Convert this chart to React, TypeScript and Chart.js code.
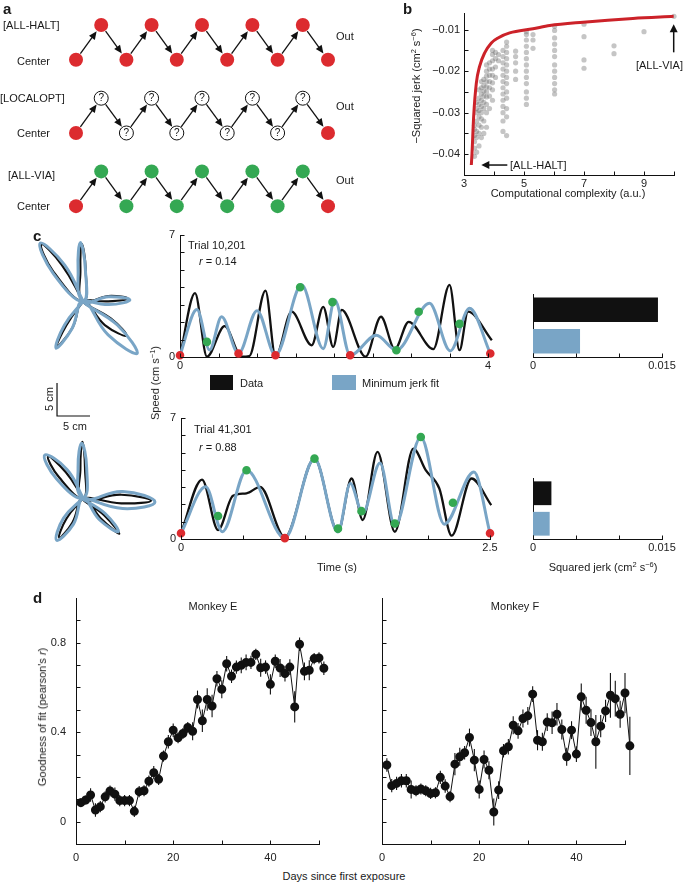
import React, { useEffect, useRef } from 'react';
import { Chart, registerables } from 'chart.js';

Chart.register(...registerables);

const FONT = '"Liberation Sans", Arial, Helvetica, sans-serif';
Chart.defaults.font.family = FONT;
Chart.defaults.font.size = 11;
Chart.defaults.color = '#222';

const INK = '#111111';
const RED = '#dc2b2f';
const GREEN = '#34a853';
const BLUE = '#79a5c6';
const PARETO_RED = '#cc2229';
const SCATTER_GREY = 'rgba(110,110,110,0.4)';

// ---------------- Panel a : chains ----------------
const CHAIN_STEPS = [0, 1, 2, 3, 4, 5, 6, 7, 8, 9, 10];
const CHAIN_STATES = [
  ['H', 'H', 'H', 'H', 'H', 'H', 'H', 'H', 'H', 'H', 'H'],
  ['H', '?', '?', '?', '?', '?', '?', '?', '?', '?', 'H'],
  ['H', 'V', 'V', 'V', 'V', 'V', 'V', 'V', 'V', 'V', 'H'],
];
const ROW_TOP_LEVEL = [0, -2, -4];
const NODE_DROP = 0.95;

// ---------------- Panel b : complexity vs jerk ----------------
const PARETO_COMPLEXITY = [3.244, 3.267, 3.322, 3.411, 3.522, 3.689, 3.911, 4.133, 4.522, 5.3, 5.86, 6.97, 8.63, 9.99];
const PARETO_NEG_JERK = [-0.0426, -0.0398, -0.0309, -0.0229, -0.0188, -0.0156, -0.0132, -0.012, -0.0108, -0.0098, -0.009, -0.0082, -0.0073, -0.0068];
const SOLUTION_COLUMNS: [number, number[]][] = [
  [3.35, [-0.0405, -0.0385, -0.037, -0.0355, -0.034, -0.033]],
  [3.42, [-0.0395, -0.036, -0.0345, -0.032, -0.03, -0.029, -0.0275]],
  [3.5, [-0.038, -0.035, -0.033, -0.031, -0.0295, -0.028, -0.0265, -0.0245]],
  [3.58, [-0.036, -0.0335, -0.0315, -0.03, -0.0285, -0.027, -0.0255, -0.024, -0.0225]],
  [3.66, [-0.035, -0.032, -0.029, -0.0275, -0.026, -0.0248, -0.0235, -0.022]],
  [3.75, [-0.0335, -0.03, -0.028, -0.0262, -0.025, -0.0238, -0.0225, -0.0212, -0.02, -0.0185]],
  [3.85, [-0.029, -0.026, -0.024, -0.0225, -0.021, -0.0195, -0.018]],
  [3.95, [-0.027, -0.0245, -0.0228, -0.021, -0.0195, -0.0175, -0.016, -0.015]],
  [4.05, [-0.0215, -0.019, -0.017, -0.0155]],
  [4.15, [-0.0175, -0.016]],
  [4.3, [-0.0345, -0.032, -0.03, -0.0285, -0.027, -0.0255, -0.024, -0.0225, -0.021, -0.0195, -0.018, -0.0165, -0.015]],
  [4.42, [-0.0355, -0.031, -0.029, -0.0265, -0.025, -0.023, -0.0215, -0.02, -0.0185, -0.017, -0.0155, -0.014, -0.013]],
  [4.72, [-0.022, -0.02, -0.018, -0.0165, -0.0152]],
  [5.08, [-0.028, -0.0265, -0.025, -0.023, -0.0215, -0.02, -0.0185, -0.017, -0.0155, -0.014, -0.0125, -0.0112, -0.0105]],
  [5.3, [-0.0145, -0.0125, -0.0112]],
  [6.02, [-0.0255, -0.0245, -0.023, -0.0215, -0.02, -0.0185, -0.0165, -0.015, -0.0135, -0.012, -0.0102, -0.0092]],
  [7.0, [-0.0193, -0.0173, -0.0117, -0.0087]],
  [8.0, [-0.0158, -0.0139]],
  [9.0, [-0.0105]],
  [10.0, [-0.0068]],
];
const B_X_TICKS = [3, 4, 5, 6, 7, 8, 9, 10];
const B_X_LABELS = [3, 5, 7, 9];
const B_Y_TICKS = [-0.04, -0.035, -0.03, -0.025, -0.02, -0.015, -0.01];
const B_Y_LABELS = [-0.04, -0.03, -0.02, -0.01];

// ---------------- Panel c : trajectories (cm, relative to reach centre) ----------------
const TRAJ1_DATA = [[0, 0], [-3.2, 5.5], [-6.3, 8.6], [-4.5, 4.5], [0, 0], [0.4, 4.8], [-0.2, 8.7], [-0.4, 4.8], [0, 0], [3.8, 0.8], [6.8, 0.4], [3.8, 0.0], [0, 0], [4.2, -2.6], [6.6, -5.2], [3.3, -3.6], [0, 0], [-1.6, -4.0], [-4.0, -6.9], [-2.5, -3.6], [0, 0]];
const TRAJ1_FIT = [[0, 0], [-2.8, 5.5], [-6.5, 8.8], [-4.5, 4.2], [0, 0], [0.35, 4.9], [-0.4, 8.9], [-0.75, 4.9], [0, 0], [3.9, 0.7], [7.1, 0.2], [3.9, -0.5], [0, 0], [5.2, -3.6], [8.2, -7.9], [3.8, -5.1], [0, 0], [-1.7, -4.2], [-4.1, -7.1], [-2.8, -3.6], [0, 0]];
const TRAJ2_DATA = [[0, 0], [-2.6, 3.9], [-5.3, 6.3], [-3.6, 3.1], [0, 0], [0.3, 4.6], [-0.1, 8.5], [-0.4, 4.6], [0, 0], [5.8, 0.5], [10.3, -0.4], [5.8, -0.8], [0, 0], [3.2, -2.6], [5.5, -5.4], [2.7, -3.1], [0, 0], [-1.6, -3.7], [-3.6, -6.0], [-2.5, -3.1], [0, 0]];
const TRAJ2_FIT = [[0, 0], [-2.4, 4.3], [-5.8, 6.5], [-4.0, 2.9], [0, 0], [0.55, 4.6], [-0.2, 8.3], [-0.75, 4.6], [0, 0], [6.0, 1.0], [10.9, -0.6], [6.0, -1.6], [0, 0], [3.35, -2.35], [5.35, -5.1], [2.45, -3.25], [0, 0], [-1.45, -3.95], [-4.0, -6.4], [-2.95, -3.05], [0, 0]];
const SCALE_BAR_CM = 5;

// ---------------- Panel c : speed profiles [time s, speed cm/s] ----------------
const TRIAL1_DATA = [[0, 0.05], [0.195, 3.66], [0.35, 0.02], [0.58, 1.77], [0.8, 0.02], [0.9, 0.05], [1.11, 3.81], [1.24, 0.02], [1.45, 2.6], [1.71, 0.67], [1.86, 2.88], [1.99, 0.58], [2.1, 2.7], [2.41, 0.02], [2.61, 2.31], [2.79, 0.45], [2.97, 2.02], [3.29, 0.45], [3.5, 4.14], [3.63, 0.39], [3.74, 2.6], [4.05, 0.96]];
const TRIAL1_FIT = [[0, 0.1], [0.22, 2.73], [0.385, 0.4], [0.54, 2.31], [0.76, 0.2], [1.0, 2.66], [1.24, 0.1], [1.58, 4.14], [1.86, 0.48], [2.01, 3.27], [2.21, 0.1], [2.55, 1.25], [2.81, 0.39], [3.24, 3.08], [3.51, 0.35], [3.76, 2.79], [4.03, 0.2]];
const TRIAL1_HALTS = [[0, 0.1], [0.76, 0.2], [1.24, 0.1], [2.21, 0.1], [4.03, 0.2]];
const TRIAL1_VIAS = [[0.35, 0.87], [1.56, 4.0], [1.98, 3.15], [2.81, 0.39], [3.1, 2.6], [3.63, 1.9]];
const TRIAL2_DATA = [[0, 0.33], [0.17, 3.44], [0.3, 0.52], [0.42, 2.5], [0.53, 2.64], [0.64, 3.02], [0.84, 0.1], [1.08, 4.65], [1.27, 0.42], [1.38, 3.5], [1.47, 1.1], [1.59, 5.04], [1.73, 0.42], [1.88, 5.23], [1.98, 3.98], [2.09, 2.92], [2.19, 0.19], [2.35, 3.5], [2.51, 1.96]];
const TRIAL2_FIT = [[0, 0.33], [0.2, 3.02], [0.335, 0.42], [0.53, 3.98], [0.84, 0.05], [1.08, 4.65], [1.27, 0.4], [1.37, 3.21], [1.47, 1.48], [1.61, 4.4], [1.73, 0.75], [1.94, 5.9], [2.13, 0.86], [2.37, 3.88], [2.5, 0.33]];
const TRIAL2_HALTS = [[0, 0.33], [0.84, 0.05], [2.5, 0.33]];
const TRIAL2_VIAS = [[0.3, 1.33], [0.53, 3.98], [1.08, 4.65], [1.27, 0.6], [1.46, 1.61], [1.73, 0.9], [1.94, 5.9], [2.2, 2.1]];
const SPEED_TICKS = [0, 1, 2, 3, 4, 5, 6, 7];
const SPEED_LABELS = [0, 7];
const TIME1_TICKS = [0, 0.5, 1, 1.5, 2, 2.5, 3, 3.5, 4];
const TIME1_LABELS = [0, 4];
const TIME2_TICKS = [0, 0.5, 1, 1.5, 2, 2.5];
const TIME2_LABELS = [0, 2.5];

// ---------------- Panel c : squared jerk bars [data, minimum jerk fit] ----------------
const JERK_LABELS = ['Data', 'Minimum jerk fit'];
const JERK_TRIAL1 = [0.01453, 0.00547];
const JERK_TRIAL2 = [0.00214, 0.00194];
const JERK_TICKS = [0, 0.005, 0.01, 0.015];
const JERK_TICK_LABELS = [0, 0.015];

// ---------------- Panel d : goodness of fit ----------------
const DAYS = [1, 2, 3, 4, 5, 6, 7, 8, 9, 10, 11, 12, 13, 14, 15, 16, 17, 18, 19, 20, 21, 22, 23, 24, 25, 26, 27, 28, 29, 30, 31, 32, 33, 34, 35, 36, 37, 38, 39, 40, 41, 42, 43, 44, 45, 46, 47, 48, 49, 50, 51];
const MONKEY_E_R = [0.085, 0.097, 0.119, 0.052, 0.067, 0.111, 0.137, 0.123, 0.094, 0.094, 0.094, 0.046, 0.134, 0.138, 0.181, 0.219, 0.189, 0.293, 0.357, 0.409, 0.375, 0.394, 0.421, 0.404, 0.546, 0.451, 0.546, 0.517, 0.639, 0.592, 0.706, 0.65, 0.691, 0.699, 0.712, 0.712, 0.748, 0.688, 0.691, 0.614, 0.717, 0.687, 0.662, 0.691, 0.513, 0.793, 0.672, 0.677, 0.729, 0.732, 0.686];
const MONKEY_E_SEM = [0.02, 0.02, 0.03, 0.03, 0.025, 0.025, 0.025, 0.03, 0.025, 0.025, 0.025, 0.025, 0.025, 0.025, 0.025, 0.03, 0.025, 0.025, 0.03, 0.03, 0.025, 0.025, 0.025, 0.04, 0.04, 0.05, 0.05, 0.05, 0.035, 0.04, 0.035, 0.03, 0.03, 0.035, 0.035, 0.03, 0.025, 0.04, 0.03, 0.045, 0.03, 0.04, 0.035, 0.035, 0.07, 0.03, 0.04, 0.045, 0.025, 0.025, 0.03];
const MONKEY_F_R = [0.253, 0.161, 0.171, 0.183, 0.183, 0.144, 0.138, 0.146, 0.138, 0.126, 0.129, 0.198, 0.159, 0.112, 0.257, 0.29, 0.308, 0.376, 0.275, 0.144, 0.278, 0.23, 0.043, 0.141, 0.317, 0.335, 0.431, 0.406, 0.461, 0.473, 0.57, 0.364, 0.357, 0.445, 0.442, 0.48, 0.412, 0.29, 0.409, 0.302, 0.558, 0.498, 0.443, 0.357, 0.427, 0.495, 0.565, 0.55, 0.48, 0.575, 0.339];
const MONKEY_F_SEM = [0.03, 0.03, 0.03, 0.03, 0.03, 0.04, 0.025, 0.025, 0.025, 0.025, 0.025, 0.03, 0.03, 0.025, 0.05, 0.04, 0.03, 0.04, 0.05, 0.04, 0.04, 0.04, 0.06, 0.04, 0.03, 0.035, 0.04, 0.035, 0.04, 0.04, 0.035, 0.045, 0.04, 0.04, 0.05, 0.05, 0.045, 0.04, 0.04, 0.035, 0.06, 0.06, 0.06, 0.12, 0.05, 0.05, 0.1, 0.08, 0.06, 0.09, 0.13];
const D_X_TICKS = [0, 10, 20, 30, 40, 50];
const D_X_LABELS = [0, 20, 40];
const D_Y_TICKS = [-0.1, 0, 0.1, 0.2, 0.3, 0.4, 0.5, 0.6, 0.7, 0.8, 0.9];
const D_Y_LABELS = [0, 0.4, 0.8];

// ---------------- helpers ----------------
type Box = { l: number; t: number; r: number; b: number };
type Frame = { left: number; top: number; width: number; height: number };

function frameOf(p: Box, pad: Box): Frame {
  return { left: p.l - pad.l, top: p.t - pad.t, width: p.r - p.l + pad.l + pad.r, height: p.b - p.t + pad.t + pad.b };
}

function drawArrow(ctx: CanvasRenderingContext2D, x0: number, y0: number, x1: number, y1: number, head: number, hw: number, lw: number) {
  const dx = x1 - x0, dy = y1 - y0, L = Math.hypot(dx, dy);
  const ux = dx / L, uy = dy / L;
  const bx = x1 - ux * head, by = y1 - uy * head;
  ctx.save();
  ctx.strokeStyle = INK;
  ctx.fillStyle = INK;
  ctx.lineWidth = lw;
  ctx.beginPath();
  ctx.moveTo(x0, y0);
  ctx.lineTo(bx + ux * 1, by + uy * 1);
  ctx.stroke();
  ctx.beginPath();
  ctx.moveTo(x1, y1);
  ctx.lineTo(bx - uy * hw, by + ux * hw);
  ctx.lineTo(bx + uy * hw, by - ux * hw);
  ctx.closePath();
  ctx.fill();
  ctx.restore();
}

const inwardTicks = (skip: string[] = [], len = 4) => ({
  id: 'inwardTicks',
  afterDraw(chart: any) {
    const ctx = chart.ctx as CanvasRenderingContext2D;
    ctx.save();
    ctx.strokeStyle = INK;
    ctx.lineWidth = 1;
    Object.values(chart.scales).forEach((s: any) => {
      if (!s.options.display || skip.includes(s.id)) return;
      s.ticks.forEach((_t: any, i: number) => {
        const p = Math.round(s.getPixelForTick(i)) + 0.5;
        ctx.beginPath();
        if (s.isHorizontal()) {
          const y = Math.round(s.top) + 0.5;
          ctx.moveTo(p, y);
          ctx.lineTo(p, y - len);
        } else {
          const x = Math.round(s.right) + 0.5;
          ctx.moveTo(x, p);
          ctx.lineTo(x + len, p);
        }
        ctx.stroke();
      });
    });
    ctx.restore();
  },
});

// Axis range is fixed after the data limits (not as user bounds) so that
// marks lying just past the axis end are still drawn, as in the reference.
function linAxis(pos: 'x' | 'y', min: number, max: number, ticks: number[], labels: number[], fit: number, padding: number, fmt: (v: number) => string = (v) => String(v)) {
  return {
    type: 'linear',
    position: pos === 'x' ? 'bottom' : 'left',
    bounds: 'data',
    grid: { display: false, drawTicks: false },
    border: { display: true, color: INK, width: 1 },
    ticks: {
      autoSkip: false,
      maxRotation: 0,
      minRotation: 0,
      padding,
      color: '#222',
      font: { size: 11, family: FONT },
      callback: (v: any) => (labels.some((l) => Math.abs(l - Number(v)) < 1e-9) ? fmt(Number(v)) : ''),
    },
    afterDataLimits: (s: any) => {
      s.min = min;
      s.max = max;
    },
    afterBuildTicks: (s: any) => {
      s.min = min;
      s.max = max;
      s.ticks = ticks.map((value) => ({ value }));
    },
    afterFit: (s: any) => {
      if (pos === 'x') s.height = fit;
      else s.width = fit;
    },
  };
}

function axisOptions(pad: Box, scales: any) {
  return {
    responsive: false,
    animation: false,
    events: [],
    layout: { padding: { left: 0, top: pad.t, right: pad.r, bottom: 0 }, autoPadding: false },
    plugins: { legend: { display: false }, tooltip: { enabled: false } },
    scales,
  };
}

function hiddenOptions(xmin: number, xmax: number, ymin: number, ymax: number) {
  return {
    responsive: false,
    animation: false,
    events: [],
    layout: { padding: 0, autoPadding: false },
    plugins: { legend: { display: false }, tooltip: { enabled: false } },
    scales: {
      x: { type: 'linear', display: false, min: xmin, max: xmax },
      y: { type: 'linear', display: false, min: ymin, max: ymax },
    },
  };
}

const pts = (a: number[][]) => a.map(([x, y]) => ({ x, y }));

function ChartCanvas({ frame, make }: { frame: Frame; make: () => any }) {
  const ref = useRef<HTMLCanvasElement | null>(null);
  useEffect(() => {
    if (!ref.current) return;
    const chart = new Chart(ref.current, make());
    return () => chart.destroy();
  }, []);
  return (
    <canvas
      ref={ref}
      width={frame.width}
      height={frame.height}
      style={{ position: 'absolute', left: frame.left, top: frame.top, width: frame.width, height: frame.height }}
    />
  );
}

function Label({ x, y, children, anchor = 'left', rotate = false, size = 11, bold = false, italic = false }: any) {
  const tx = anchor === 'left' ? '0' : anchor === 'right' ? '-100%' : '-50%';
  return (
    <div
      style={{
        position: 'absolute',
        left: x,
        top: y,
        transform: `translate(${tx}, -50%)${rotate ? ' rotate(-90deg)' : ''}`,
        whiteSpace: 'nowrap',
        fontSize: size,
        fontWeight: bold ? 700 : 400,
        fontStyle: italic ? 'italic' : 'normal',
        lineHeight: 1.1,
        color: '#1a1a1a',
        fontFamily: FONT,
      }}
    >
      {children}
    </div>
  );
}

const Sup = ({ children }: any) => (
  <sup style={{ fontSize: '0.68em', verticalAlign: '0.5em', lineHeight: 0 }}>{children}</sup>
);

// ---------------- chart factories ----------------
const CHAIN_FRAME: Frame = { left: 0, top: 0, width: 345, height: 225 };
const CHAIN_STEP_PX = 25.2;
const CHAIN_FIRST_PX = 76;
const CHAIN_LEVEL_PX = 36.6;
const CHAIN_TOP_PX = 25;

function chainChart() {
  const xmin = -CHAIN_FIRST_PX / CHAIN_STEP_PX;
  const xmax = xmin + CHAIN_FRAME.width / CHAIN_STEP_PX;
  const ymax = CHAIN_TOP_PX / CHAIN_LEVEL_PX;
  const ymin = ymax - CHAIN_FRAME.height / CHAIN_LEVEL_PX;
  const plugin = {
    id: 'chainArrows',
    beforeDatasetsDraw(chart: any) {
      const ctx = chart.ctx;
      chart.data.datasets.forEach((_d: any, di: number) => {
        const p = chart.getDatasetMeta(di).data;
        for (let i = 0; i < p.length - 1; i++) {
          const a = p[i], b = p[i + 1];
          const dx = b.x - a.x, dy = b.y - a.y, L = Math.hypot(dx, dy);
          const ux = dx / L, uy = dy / L;
          drawArrow(ctx, a.x + ux * 7.5, a.y + uy * 7.5, b.x - ux * 7.8, b.y - uy * 7.8, 8, 3.6, 1.3);
        }
      });
    },
    afterDatasetsDraw(chart: any) {
      const ctx = chart.ctx;
      ctx.save();
      ctx.fillStyle = INK;
      ctx.font = `10px ${FONT}`;
      ctx.textAlign = 'center';
      ctx.textBaseline = 'middle';
      CHAIN_STATES.forEach((row, r) => {
        const p = chart.getDatasetMeta(r).data;
        row.forEach((st, i) => {
          if (st === '?') ctx.fillText('?', p[i].x, p[i].y + 0.5);
        });
      });
      ctx.restore();
    },
  };
  return {
    type: 'scatter',
    data: {
      datasets: CHAIN_STATES.map((row, r) => ({
        data: CHAIN_STEPS.map((s) => ({ x: s, y: ROW_TOP_LEVEL[r] - (s % 2 === 1 ? 0 : NODE_DROP) })),
        pointRadius: 7,
        pointBackgroundColor: row.map((st) => (st === 'H' ? RED : st === 'V' ? GREEN : '#fff')),
        pointBorderColor: row.map((st) => (st === '?' ? INK : 'rgba(0,0,0,0)')),
        pointBorderWidth: row.map((st) => (st === '?' ? 1 : 0)),
        clip: false,
      })),
    },
    options: hiddenOptions(xmin, xmax, ymin, ymax),
    plugins: [plugin],
  };
}

const B_PLOT: Box = { l: 464, t: 13, r: 674, b: 175 };
const B_PAD: Box = { l: 64, t: 13, r: 11, b: 25 };

function paretoChart() {
  const scatter: { x: number; y: number }[] = [];
  SOLUTION_COLUMNS.forEach(([x, ys]) => ys.forEach((y) => scatter.push({ x, y })));
  const n = PARETO_COMPLEXITY.length;
  const arrows = {
    id: 'paretoArrows',
    afterDatasetsDraw(chart: any) {
      const { x, y } = chart.scales;
      const hx = x.getPixelForValue(PARETO_COMPLEXITY[0]);
      const hy = y.getPixelForValue(PARETO_NEG_JERK[0]);
      drawArrow(chart.ctx, hx + 36, hy, hx + 10, hy, 8, 4, 1.5);
      const vx = x.getPixelForValue(PARETO_COMPLEXITY[n - 1]);
      const vy = y.getPixelForValue(PARETO_NEG_JERK[n - 1]);
      drawArrow(chart.ctx, vx, vy + 36, vx, vy + 8, 8, 4, 1.5);
    },
  };
  return {
    type: 'scatter',
    data: {
      datasets: [
        {
          data: PARETO_COMPLEXITY.map((x, i) => ({ x, y: PARETO_NEG_JERK[i] })),
          showLine: true,
          borderColor: PARETO_RED,
          borderWidth: 3,
          pointRadius: 0,
          cubicInterpolationMode: 'monotone',
          clip: false,
        },
        {
          data: scatter,
          pointRadius: 2.6,
          pointBackgroundColor: SCATTER_GREY,
          backgroundColor: SCATTER_GREY,
          pointBorderWidth: 0,
          clip: false,
        },
      ],
    },
    options: axisOptions(B_PAD, {
      x: linAxis('x', 3, 10, B_X_TICKS, B_X_LABELS, B_PAD.b, 2.5),
      y: linAxis('y', -0.045, -0.006, B_Y_TICKS, B_Y_LABELS, B_PAD.l, 4, (v) => '\u2212' + Math.abs(v).toFixed(2)),
    }),
    plugins: [inwardTicks(), arrows],
  };
}

const TRAJ_FRAME: Frame = { left: 0, top: 230, width: 175, height: 330 };
const PX_PER_CM = 6.6;
const FLOWER_CENTERS = [[12.58, 39.2], [12.58, 9.39]];
const SCALE_BAR_ORIGIN = [8.64, 21.82];

function trajChart() {
  const shift = (a: number[][], c: number[]) => a.map(([x, y]) => ({ x: x + c[0], y: y + c[1] }));
  const line = (data: any, color: string, width: number) => ({
    data,
    showLine: true,
    borderColor: color,
    borderWidth: width,
    pointRadius: 0,
    tension: 0.45,
    clip: false,
  });
  const [sx, sy] = SCALE_BAR_ORIGIN;
  return {
    type: 'scatter',
    data: {
      datasets: [
        line(shift(TRAJ1_FIT, FLOWER_CENTERS[0]), BLUE, 3),
        line(shift(TRAJ2_FIT, FLOWER_CENTERS[1]), BLUE, 3),
        line(shift(TRAJ1_DATA, FLOWER_CENTERS[0]), INK, 2.2),
        line(shift(TRAJ2_DATA, FLOWER_CENTERS[1]), INK, 2.2),
        {
          data: [{ x: sx, y: sy + SCALE_BAR_CM }, { x: sx, y: sy }, { x: sx + SCALE_BAR_CM, y: sy }],
          showLine: true,
          borderColor: INK,
          borderWidth: 1.2,
          pointRadius: 0,
          tension: 0,
        },
      ],
    },
    options: hiddenOptions(0, TRAJ_FRAME.width / PX_PER_CM, 0, TRAJ_FRAME.height / PX_PER_CM),
  };
}

const SPEED_PAD: Box = { l: 30, t: 14, r: 14, b: 22 };
const SPEED1_PLOT: Box = { l: 180, t: 235, r: 488, b: 357 };
const SPEED2_PLOT: Box = { l: 181, t: 418, r: 490, b: 539 };

function speedChart(data: number[][], fit: number[][], halts: number[][], vias: number[][], xmax: number, xt: number[], xl: number[]) {
  const dot = (color: string) => ({ pointRadius: 3.3, pointBackgroundColor: color, backgroundColor: color, pointBorderColor: color, pointBorderWidth: 2, clip: false });
  return {
    type: 'scatter',
    data: {
      datasets: [
        { data: pts(halts), ...dot(RED) },
        { data: pts(vias), ...dot(GREEN) },
        { data: pts(fit), showLine: true, borderColor: BLUE, borderWidth: 3, pointRadius: 0, cubicInterpolationMode: 'monotone', clip: false },
        { data: pts(data), showLine: true, borderColor: INK, borderWidth: 2.3, pointRadius: 0, cubicInterpolationMode: 'monotone', clip: false },
      ],
    },
    options: axisOptions(SPEED_PAD, {
      x: linAxis('x', 0, xmax, xt, xl, SPEED_PAD.b, 2.5),
      y: linAxis('y', 0, 7, SPEED_TICKS, SPEED_LABELS, SPEED_PAD.l, 5),
    }),
    plugins: [inwardTicks()],
  };
}

const BAR_PAD: Box = { l: 10, t: 6, r: 22, b: 22 };
const BAR1_PLOT: Box = { l: 533, t: 294, r: 662, b: 357 };
const BAR2_PLOT: Box = { l: 533, t: 478, r: 662, b: 539 };

function jerkChart(values: number[]) {
  return {
    type: 'bar',
    data: {
      labels: JERK_LABELS,
      datasets: [{ data: values, backgroundColor: [INK, BLUE], borderWidth: 0, barPercentage: 1, categoryPercentage: 0.78 }],
    },
    options: {
      ...axisOptions(BAR_PAD, {
        x: linAxis('x', 0, 0.015, JERK_TICKS, JERK_TICK_LABELS, BAR_PAD.b, 2.5, (v) => (v === 0 ? '0' : String(v))),
        y: {
          type: 'category',
          position: 'left',
          grid: { display: false, drawTicks: false },
          border: { display: true, color: INK, width: 1 },
          ticks: { display: false },
          afterFit: (s: any) => {
            s.width = BAR_PAD.l;
          },
        },
      }),
      indexAxis: 'y',
    },
    plugins: [inwardTicks(['y'])],
  };
}

// top padding must exceed half a label line plus the tick padding,
// otherwise Chart.js pushes the plot area down.
const D_PAD: Box = { l: 40, t: 20, r: 14, b: 24 };
const DE_PLOT: Box = { l: 76, t: 598, r: 319, b: 844 };
const DF_PLOT: Box = { l: 382, t: 598, r: 625, b: 844 };

function monkeyChart(r: number[], sem: number[], ylabels: number[]) {
  const bars = {
    id: 'errorBars',
    beforeDatasetsDraw(chart: any) {
      const ctx = chart.ctx;
      const ys = chart.scales.y;
      const meta = chart.getDatasetMeta(0);
      ctx.save();
      ctx.strokeStyle = INK;
      ctx.lineWidth = 1.1;
      meta.data.forEach((p: any, i: number) => {
        ctx.beginPath();
        ctx.moveTo(p.x, ys.getPixelForValue(r[i] + sem[i]));
        ctx.lineTo(p.x, ys.getPixelForValue(r[i] - sem[i]));
        ctx.stroke();
      });
      ctx.restore();
    },
  };
  return {
    type: 'scatter',
    data: {
      datasets: [
        {
          data: DAYS.map((d, i) => ({ x: d, y: r[i] })),
          showLine: true,
          borderColor: INK,
          borderWidth: 1,
          pointRadius: 3.5,
          pointBackgroundColor: INK,
          backgroundColor: INK,
          pointBorderColor: INK,
          pointBorderWidth: 2,
          clip: false,
        },
      ],
    },
    options: axisOptions(D_PAD, {
      x: linAxis('x', 0, 50, D_X_TICKS, D_X_LABELS, D_PAD.b, 7.5),
      y: linAxis('y', -0.1, 1.0, D_Y_TICKS, ylabels, D_PAD.l, 10, (v) => String(+v.toFixed(2))),
    }),
    plugins: [bars, inwardTicks()],
  };
}

export default function App() {
  return (
    <div style={{ position: 'absolute', left: 0, top: 0, width: 685, height: 882, background: '#fff', overflow: 'hidden', fontFamily: FONT }}>
      {/* Panel a */}
      <ChartCanvas frame={CHAIN_FRAME} make={chainChart} />
      <Label x={3} y={9} size={15} bold>a</Label>
      <Label x={3} y={25}>[ALL-HALT]</Label>
      <Label x={17} y={61}>Center</Label>
      <Label x={336} y={36}>Out</Label>
      <Label x={0} y={98}>[LOCALOPT]</Label>
      <Label x={17} y={133}>Center</Label>
      <Label x={336} y={106}>Out</Label>
      <Label x={8} y={175}>[ALL-VIA]</Label>
      <Label x={17} y={206}>Center</Label>
      <Label x={336} y={180}>Out</Label>

      {/* Panel b */}
      <ChartCanvas frame={frameOf(B_PLOT, B_PAD)} make={paretoChart} />
      <Label x={403} y={9} size={15} bold>b</Label>
      <Label x={416} y={86} anchor="center" rotate>
        {'\u2212'}Squared jerk (cm<Sup>2</Sup> s<Sup>{'\u2212'}6</Sup>)
      </Label>
      <Label x={568} y={193} anchor="center">Computational complexity (a.u.)</Label>
      <Label x={510} y={165}>[ALL-HALT]</Label>
      <Label x={683} y={65} anchor="right">[ALL-VIA]</Label>

      {/* Panel c */}
      <ChartCanvas frame={TRAJ_FRAME} make={trajChart} />
      <Label x={33} y={236} size={15} bold>c</Label>
      <Label x={49} y={399} anchor="center" rotate>5 cm</Label>
      <Label x={75} y={426} anchor="center">5 cm</Label>

      <ChartCanvas frame={frameOf(SPEED1_PLOT, SPEED_PAD)} make={() => speedChart(TRIAL1_DATA, TRIAL1_FIT, TRIAL1_HALTS, TRIAL1_VIAS, 4, TIME1_TICKS, TIME1_LABELS)} />
      <ChartCanvas frame={frameOf(SPEED2_PLOT, SPEED_PAD)} make={() => speedChart(TRIAL2_DATA, TRIAL2_FIT, TRIAL2_HALTS, TRIAL2_VIAS, 2.5, TIME2_TICKS, TIME2_LABELS)} />
      <Label x={188} y={245}>Trial 10,201</Label>
      <Label x={199} y={261}><i>r</i> = 0.14</Label>
      <Label x={194} y={429}>Trial 41,301</Label>
      <Label x={199} y={447}><i>r</i> = 0.88</Label>
      <div style={{ position: 'absolute', left: 210, top: 375, width: 23, height: 15, background: INK }} />
      <Label x={240} y={383}>Data</Label>
      <div style={{ position: 'absolute', left: 332, top: 375, width: 24, height: 15, background: BLUE }} />
      <Label x={362} y={383}>Minimum jerk fit</Label>
      <Label x={155} y={383} anchor="center" rotate>
        Speed (cm s<Sup>{'\u2212'}1</Sup>)
      </Label>
      <Label x={337} y={567} anchor="center">Time (s)</Label>

      <ChartCanvas frame={frameOf(BAR1_PLOT, BAR_PAD)} make={() => jerkChart(JERK_TRIAL1)} />
      <ChartCanvas frame={frameOf(BAR2_PLOT, BAR_PAD)} make={() => jerkChart(JERK_TRIAL2)} />
      <Label x={603} y={567} anchor="center">
        Squared jerk (cm<Sup>2</Sup> s<Sup>{'\u2212'}6</Sup>)
      </Label>

      {/* Panel d */}
      <ChartCanvas frame={frameOf(DE_PLOT, D_PAD)} make={() => monkeyChart(MONKEY_E_R, MONKEY_E_SEM, D_Y_LABELS)} />
      <ChartCanvas frame={frameOf(DF_PLOT, D_PAD)} make={() => monkeyChart(MONKEY_F_R, MONKEY_F_SEM, [])} />
      <Label x={33} y={598} size={15} bold>d</Label>
      <Label x={213} y={606} anchor="center">Monkey E</Label>
      <Label x={515} y={606} anchor="center">Monkey F</Label>
      <Label x={42} y={717} anchor="center" rotate>
        Goodness of fit (pearson's <i>r</i>)
      </Label>
      <Label x={344} y={876} anchor="center">Days since first exposure</Label>
    </div>
  );
}
